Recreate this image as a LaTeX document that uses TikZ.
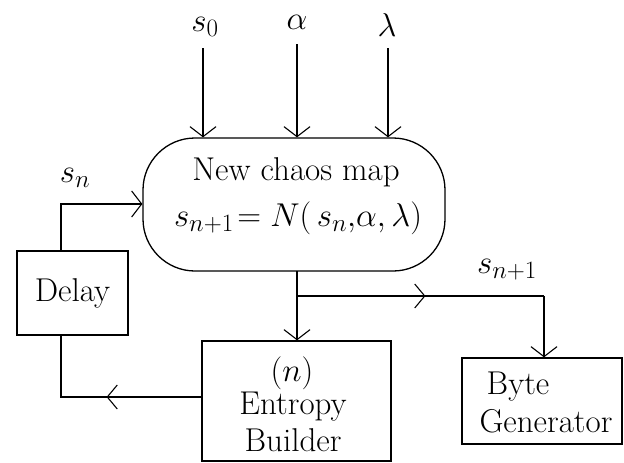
\RequirePackage{fix-cm}
\documentclass[tikz,border=0pt]{standalone}
\usepackage{fontspec}
\DeclareMathSizes{33}{33}{25}{20}
\usetikzlibrary{arrows.meta,decorations.markings}
\begin{document}
\begin{tikzpicture}[x=1pt,y=-1pt,
  line width=1.3pt,
  every node/.style={font=\fontsize{33}{38}\selectfont, inner sep=0pt},
  tip/.style={-{Straight Barb[length=10pt,width=26pt,line width=1.1pt]}},
  midtip/.style={postaction={decorate},decoration={markings,
     mark=at position #1 with {\arrow{Straight Barb[length=10pt,width=24pt,line width=1.1pt]}}}},
  blk/.style={draw, minimum width=#1, inner sep=0pt}]
\useasboundingbox (0,0) rectangle (624,463);
% main map
\node[draw, rounded corners=52pt, minimum width=302pt, minimum height=133pt] (map) at (294,204.5) {};
\node (t1) at (296,172) {New chaos map};
\node (t2) at (298,218) {$s_{n+1}\!=N(\,s_n,\!\alpha,\lambda)$};
% inputs
\node (s0) at (205,27) {$s_0$};
\node (al) at (297,22) {$\alpha$};
\node (la) at (387,25) {$\lambda$};
\coordinate (i1) at (203,48);
\coordinate (i2) at (297,44);
\coordinate (i3) at (388,48);
\draw[tip] (i1) -- (i1 |- map.north);
\draw[tip] (i2) -- (i2 |- map.north);
\draw[tip] (i3) -- (i3 |- map.north);
% blocks
\node[blk=111pt, minimum height=84pt] (delay) at (72.5,293) {Delay};
\node[blk=189pt, minimum height=120pt] (ent) at (296.5,401) {};
\node (entA) at (292,373) {$(n)$};
\node (entB) at (293,407) {Entropy};
\node (entC) at (293,440) {Builder};
\node[blk=160pt, minimum height=86pt] (byte) at (542,401) {};
\node (byteA) at (518,387) {Byte};
\node (byteB) at (546,421) {Generator};
% labels
\node (sn) at (75,178) {$s_n$};
\node (sn1) at (507,270) {$s_{n+1}$};
% feedback into map
\coordinate (c1) at (61,204);
\draw[tip] (c1 |- delay.north) -- (c1) -- (c1 -| map.west);
% from entropy back to delay
\coordinate (c2) at (61,397);
\draw[midtip=0.47] (c2 -| ent.west) -- (c2) -- (c2 |- delay.south);
% map to entropy
\coordinate (m) at (297,271);
\draw[tip] (m) -- (m |- ent.north);
% branch to byte generator
\coordinate (b) at (297,296);
\coordinate (c3) at (544,296);
\draw[midtip=0.52] (b) -- (c3);
\draw[tip] (c3) -- (c3 |- byte.north);
\end{tikzpicture}
\end{document}
